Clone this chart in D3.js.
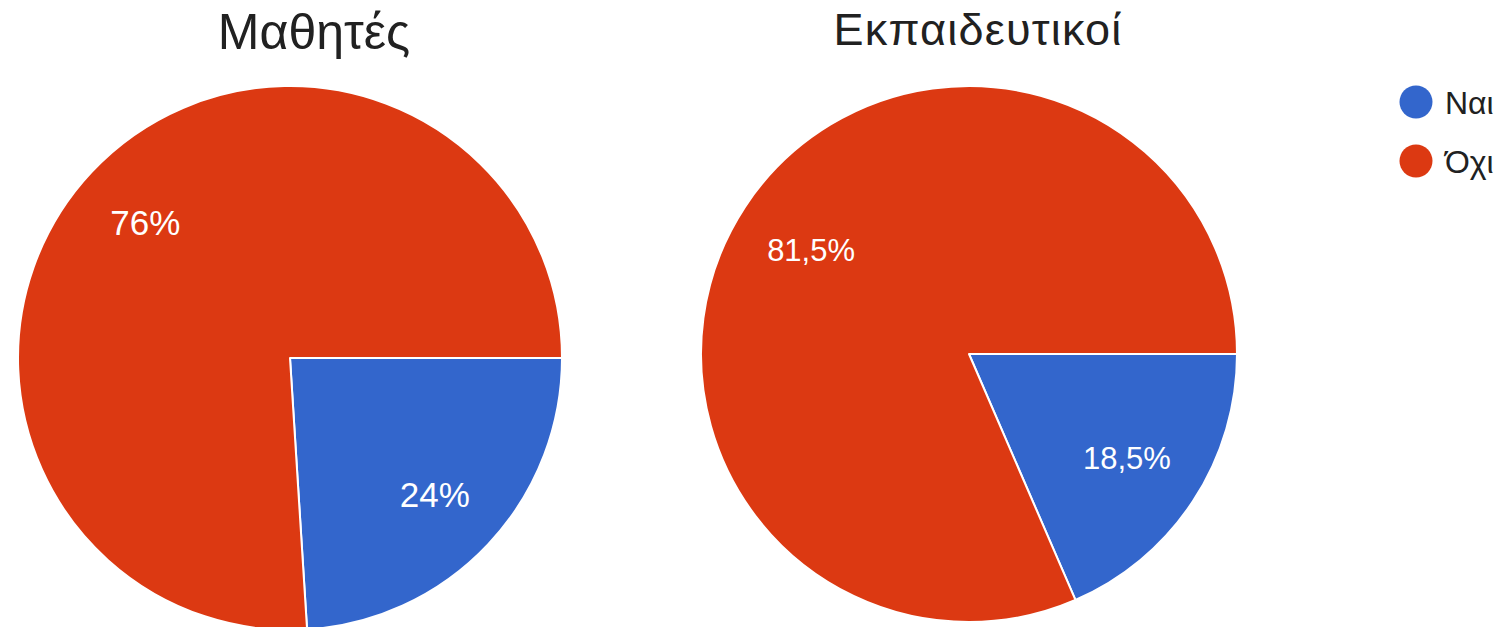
<!DOCTYPE html>
<html>
<head>
<meta charset="utf-8">
<script src="https://cdn.jsdelivr.net/npm/d3@7"></script>
<style>
body { margin:0; background:#fff; }
svg { display:block; font-family:"Liberation Sans", Arial, sans-serif; }
</style>
</head>
<body>
<svg width="1501" height="627"></svg>
<script>
// data
var categories = ["Ναι", "Όχι"]
var titles = ["Μαθητές", "Εκπαιδευτικοί"]
var studentValues = [24, 76]
var teacherValues = [18.5, 81.5]
var colors = ["#3366cc", "#dc3912"]

var screen = {width:1501,height:627}

// the two pies were clearly pasted at slightly different scales
var pies = [
    {title:titles[0], values:studentValues, cx:290, cy:358, r:272,
     titleX:314, titleY:49, titleSize:50, titleSpacing:0, labelSize:35, labelR:0.73},
    {title:titles[1], values:teacherValues, cx:969, cy:354, r:268,
     titleX:978, titleY:45, titleSize:45, titleSpacing:1.2, labelSize:31, labelR:0.705}
]

var svg = d3.select("svg")
    .attr("width",screen.width)
    .attr("height",screen.height)

var cScale = d3.scaleOrdinal().domain(categories).range(colors)

var pieGen = d3.pie()
    .sort(null)
    .startAngle(Math.PI/2)
    .endAngle(Math.PI/2 + 2*Math.PI)

var fmt = function(v)
{
    return String(v).replace(".", ",") + "%"
}

var drawPie = function(p)
{
    var g = svg.append("g")
        .attr("transform","translate("+p.cx+","+p.cy+")")

    var arc = d3.arc().innerRadius(0).outerRadius(p.r)
    var labelArc = d3.arc().innerRadius(p.r*p.labelR).outerRadius(p.r*p.labelR)

    var slices = pieGen(p.values)

    g.selectAll("path")
        .data(slices)
        .enter()
        .append("path")
        .attr("d",arc)
        .attr("fill",function(d,i){ return cScale(categories[i]) })
        .attr("stroke","#fff")
        .attr("stroke-width",2)
        .attr("stroke-linejoin","round")

    g.selectAll("text")
        .data(slices)
        .enter()
        .append("text")
        .attr("transform",function(d){ return "translate("+labelArc.centroid(d)+")" })
        .attr("text-anchor","middle")
        .attr("dy","0.36em")
        .attr("fill","#fff")
        .attr("font-size",p.labelSize)
        .text(function(d){ return fmt(d.data) })

    svg.append("text")
        .attr("x",p.titleX)
        .attr("y",p.titleY)
        .attr("text-anchor","middle")
        .attr("fill","#212121")
        .attr("font-size",p.titleSize)
        .attr("letter-spacing",p.titleSpacing)
        .text(p.title)
}

pies.forEach(drawPie)

// legend
var legend = svg.append("g")
    .attr("transform","translate(1416,102)")

var items = legend.selectAll("g")
    .data(categories)
    .enter()
    .append("g")
    .attr("transform",function(d,i){ return "translate(0,"+(i*59)+")" })

items.append("circle")
    .attr("r",16.5)
    .attr("fill",function(d){ return cScale(d) })

items.append("text")
    .attr("x",29)
    .attr("dy","0.36em")
    .attr("font-size",32)
    .attr("fill","#212121")
    .text(function(d){ return d })
</script>
</body>
</html>
